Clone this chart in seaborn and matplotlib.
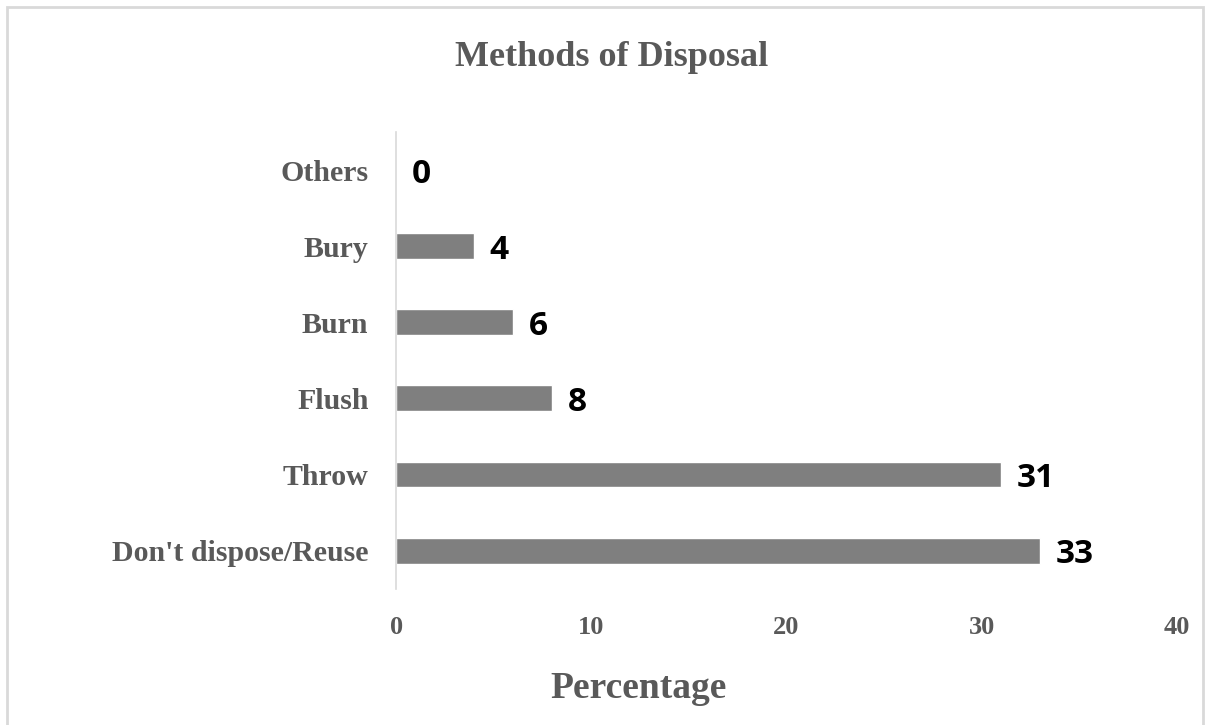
import matplotlib
matplotlib.use("Agg")
import matplotlib.pyplot as plt
import seaborn as sns
import pandas as pd
from matplotlib.patches import Rectangle

categories = ["Others", "Bury", "Burn", "Flush", "Throw", "Don't dispose/Reuse"]
values = [0, 4, 6, 8, 31, 33]
xticks = [0, 10, 20, 30, 40]

df = pd.DataFrame({"Method": categories, "Percentage": values})

sns.set_style("white")
plt.rcParams["font.family"] = ["Liberation Serif", "DejaVu Serif"]

fig = plt.figure(figsize=(12.08, 7.25), dpi=100)
ax = fig.add_axes([0.328, 0.188, 0.646, 0.630])

sns.barplot(data=df, y="Method", x="Percentage", color="#7f7f7f", saturation=1,
            width=0.34, ax=ax, orient="h")

ax.set_xlim(0, 40)
ax.set_xticks(xticks)
ax.set_xticklabels([str(t) for t in xticks], fontsize=19, fontweight="bold",
                   color="#595959")
ax.tick_params(axis="x", length=0, pad=20)
ax.tick_params(axis="y", length=0, pad=20)
for lbl in ax.get_yticklabels():
    lbl.set_fontsize(21.5)
    lbl.set_fontweight("bold")
    lbl.set_color("#595959")

for s in ["top", "right", "bottom"]:
    ax.spines[s].set_visible(False)
ax.spines["left"].set_color("#d9d9d9")
ax.spines["left"].set_linewidth(1.2)

for i, v in enumerate(values):
    ax.annotate(str(v), xy=(v, i), xytext=(11, -3), textcoords="offset points",
                ha="left", va="center", fontsize=24, fontweight="bold",
                color="black", family=["Open Sans", "DejaVu Sans"])

ax.set_ylabel("")
ax.set_xlabel("")

fig.text(0.529, 0.051, "Percentage", ha="center", va="center",
         fontsize=27, fontweight="bold", color="#595959")

fig.text(0.506, 0.921, "Methods of Disposal", ha="center", va="center",
         fontsize=26, fontweight="bold", color="#595959")

fig.patches.append(Rectangle((0.006, -0.02), 0.99, 1.01, transform=fig.transFigure,
                             fill=False, edgecolor="#d9d9d9", linewidth=2.0))

fig.savefig("out.png", dpi=100)
